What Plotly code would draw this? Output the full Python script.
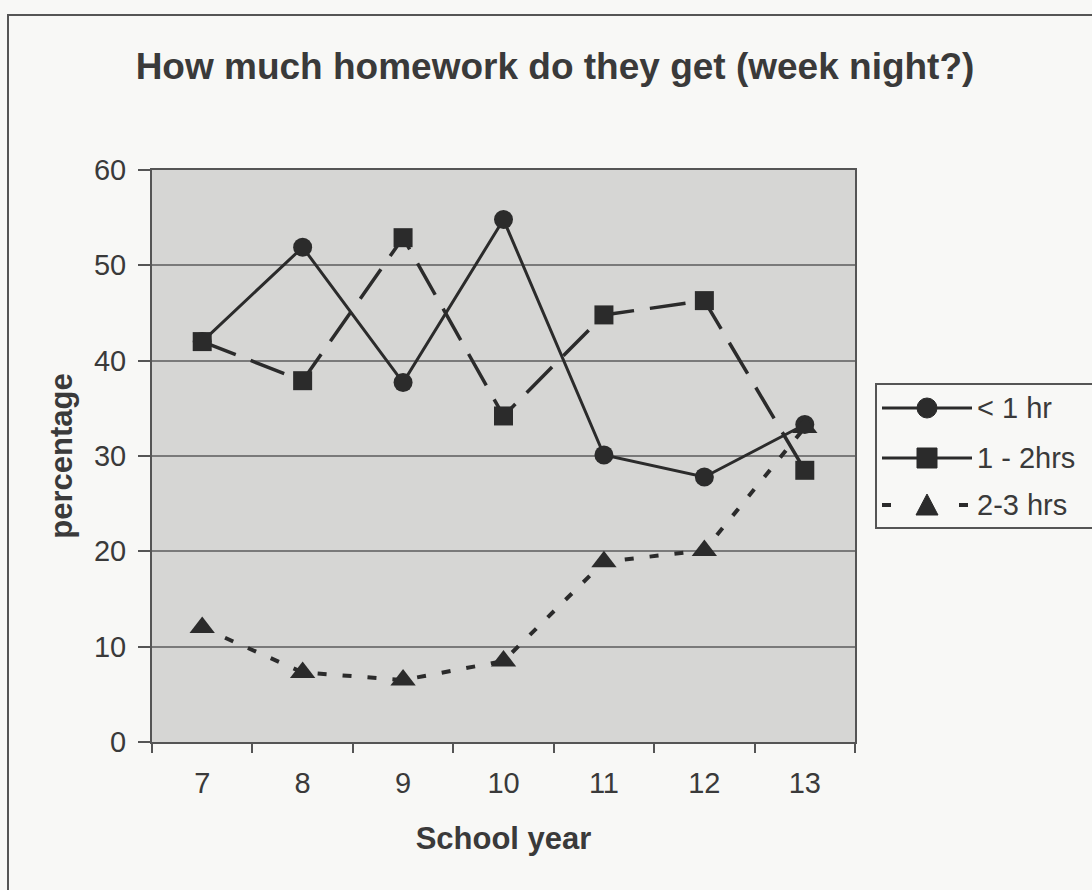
import plotly.graph_objects as go

# School years shown on the category axis
years = ["7", "8", "9", "10", "11", "12", "13"]

# Percentage of pupils per homework band on a week night
under_1hr = [42.0, 51.9, 37.7, 54.8, 30.1, 27.8, 33.3]
one_to_2hrs = [42.0, 37.9, 52.9, 34.2, 44.8, 46.3, 28.5]
two_to_3hrs = [12.0, 7.3, 6.5, 8.5, 18.9, 20.1, 33.0]

series_names = ["< 1 hr", "1 - 2hrs", "2-3 hrs"]
y_ticks = [0, 10, 20, 30, 40, 50, 60]

INK = "#2b2b2b"
TEXT = "#3a3a3a"
FRAME = "#555555"
PAPER = "#f8f8f6"
FONT = "Liberation Sans, Arial, sans-serif"

fig = go.Figure()

fig.add_trace(go.Scatter(
    x=years, y=under_1hr, name=series_names[0],
    mode="lines+markers",
    line=dict(color=INK, width=3),
    marker=dict(symbol="circle", size=19, color=INK),
))
fig.add_trace(go.Scatter(
    x=years, y=one_to_2hrs, name=series_names[1],
    mode="lines+markers",
    line=dict(color=INK, width=3.5, dash="36px,16px"),
    marker=dict(symbol="square", size=19, color=INK),
))
fig.add_trace(go.Scatter(
    x=years, y=two_to_3hrs, name=series_names[2],
    mode="lines+markers",
    line=dict(color=INK, width=4, dash="9px,16px"),
    marker=dict(symbol="triangle-up", size=22, color=INK),
))

# plot area spans x 152..855 px, y 170..742 px
L, R, T, B = 152, 855, 170, 742
W, H = 1092, 890
pw, ph = R - L, B - T


def px(x):
    return (x - L) / pw


def py(y):
    return (B - y) / ph


# Key box drawn beside the plot: long sample lines with the marker centred
shapes = [
    dict(type="rect", xref="paper", yref="paper",
         x0=px(8), x1=px(1120), y0=py(920), y1=py(15),
         line=dict(color=FRAME, width=2), fillcolor="rgba(0,0,0,0)", layer="below"),
    dict(type="rect", xref="paper", yref="paper",
         x0=px(876), x1=px(1110), y0=py(528), y1=py(384),
         line=dict(color=FRAME, width=2), fillcolor=PAPER),
]
annotations = []
key_rows = [408, 458, 505]
lx0, lx1, mx = 882, 972, 927
m = 10  # half marker size in px

# row 1: solid line + circle
r = key_rows[0]
shapes.append(dict(type="line", xref="paper", yref="paper",
                   x0=px(lx0), x1=px(lx1), y0=py(r), y1=py(r),
                   line=dict(color=INK, width=3)))
shapes.append(dict(type="circle", xref="paper", yref="paper",
                   x0=px(mx - m), x1=px(mx + m), y0=py(r + m), y1=py(r - m),
                   line=dict(color=INK, width=1), fillcolor=INK))
# row 2: solid-looking line + square
r = key_rows[1]
shapes.append(dict(type="line", xref="paper", yref="paper",
                   x0=px(lx0), x1=px(lx1), y0=py(r), y1=py(r),
                   line=dict(color=INK, width=3)))
shapes.append(dict(type="rect", xref="paper", yref="paper",
                   x0=px(mx - m), x1=px(mx + m), y0=py(r + m), y1=py(r - m),
                   line=dict(color=INK, width=1), fillcolor=INK))
# row 3: short dashes + triangle
r = key_rows[2]
for a, b in [(882, 891), (959, 968)]:
    shapes.append(dict(type="line", xref="paper", yref="paper",
                       x0=px(a), x1=px(b), y0=py(r), y1=py(r),
                       line=dict(color=INK, width=4)))
shapes.append(dict(type="path", xref="paper", yref="paper",
                   path=f"M {px(mx - 11)},{py(r + 10)} L {px(mx + 11)},{py(r + 10)} "
                        f"L {px(mx)},{py(r - 11)} Z",
                   line=dict(color=INK, width=1), fillcolor=INK))

for name, r in zip(series_names, key_rows):
    annotations.append(dict(
        text=name, xref="paper", yref="paper",
        x=px(975), y=py(r), xanchor="left", yanchor="middle",
        showarrow=False, font=dict(size=29, color=TEXT, family=FONT),
    ))

fig.update_layout(
    width=W, height=H,
    margin=dict(l=L, r=W - R, t=T, b=H - B, pad=0),
    paper_bgcolor=PAPER,
    plot_bgcolor="#d6d6d4",
    font=dict(family=FONT, color=TEXT, size=29),
    showlegend=False,
    title=dict(
        text="<b>How much homework do they get (week night?)</b>",
        font=dict(size=37, color=TEXT, family=FONT),
        x=555 / W, xanchor="center",
        y=1 - 66 / H, yanchor="middle",
    ),
    xaxis=dict(
        type="category",
        range=[-0.5, 6.5],
        tickson="boundaries",
        ticks="outside", ticklen=9, tickwidth=2, tickcolor=FRAME,
        showline=True, linecolor=FRAME, linewidth=2,
        showgrid=False, zeroline=False,
        tickfont=dict(size=29, color=TEXT),
        ticklabelstandoff=14,
        title=dict(text="<b>School year</b>", font=dict(size=31, color=TEXT), standoff=30),
        mirror=True,
    ),
    yaxis=dict(
        range=[0, 60],
        tickvals=y_ticks,
        ticks="outside", ticklen=12, tickwidth=2, tickcolor=FRAME,
        showline=True, linecolor=FRAME, linewidth=2,
        showgrid=True, gridcolor="#7a7a7a", gridwidth=1.5,
        zeroline=False,
        tickfont=dict(size=29, color=TEXT),
        ticklabelstandoff=6,
        title=dict(text="<b>percentage</b>", font=dict(size=31, color=TEXT), standoff=12),
        mirror=True,
    ),
    shapes=shapes,
    annotations=annotations,
)

fig.write_html("out.html")
